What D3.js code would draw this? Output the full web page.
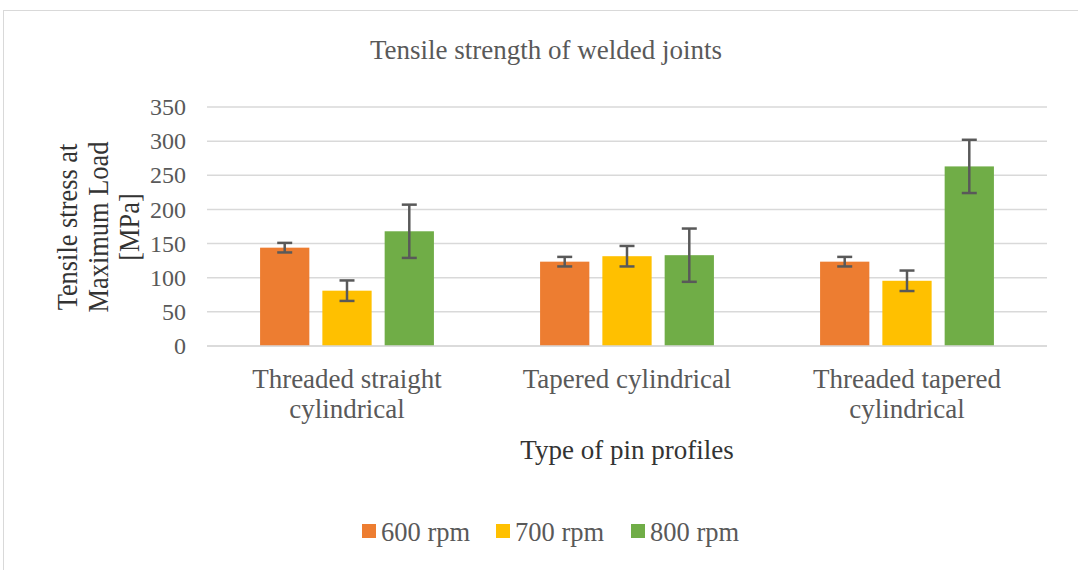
<!DOCTYPE html>
<html>
<head>
<meta charset="utf-8">
<script src="https://cdn.jsdelivr.net/npm/d3@7"></script>
<style>
  html, body { margin: 0; padding: 0; background: #fff; }
  svg { display: block; }
  text { font-family: "Liberation Serif", "Times New Roman", serif; }
</style>
</head>
<body>
<svg id="chart" width="1078" height="570"></svg>
<script>
const categories = [["Threaded straight", "cylindrical"], ["Tapered cylindrical"], ["Threaded tapered", "cylindrical"]];
const seriesNames = ["600 rpm", "700 rpm", "800 rpm"];
const seriesColors = ["#ED7D31", "#FFC000", "#70AD47"];
const values600 = [144, 123.5, 123.5];
const values700 = [81, 131.5, 95.5];
const values800 = [168, 133, 263];
const errors600 = [7, 7, 7];
const errors700 = [15, 15, 15];
const errors800 = [39, 39, 39];
const yTicks = [0, 50, 100, 150, 200, 250, 300, 350];

const seriesValues = [values600, values700, values800];
const seriesErrors = [errors600, errors700, errors800];

const svg = d3.select("#chart");
const W = 1078, H = 570;

// outer chart border
svg.append("rect").attr("x", 3.5).attr("y", 10.5).attr("width", W + 10).attr("height", H + 10)
  .attr("fill", "#fff").attr("stroke", "#d9d9d9").attr("stroke-width", 1);

const plot = { left: 207, right: 1047, top: 107, bottom: 346 };

const x0 = d3.scaleBand().domain(d3.range(categories.length)).range([plot.left, plot.right]).padding(0);
const x1 = d3.scaleBand().domain(d3.range(seriesNames.length)).range([0, x0.bandwidth()])
  .paddingInner(0.209).paddingOuter(0.852);
const y = d3.scaleLinear().domain([0, 350]).range([plot.bottom, plot.top]);

// gridlines
svg.append("g").selectAll("line").data(yTicks).join("line")
  .attr("x1", plot.left).attr("x2", plot.right)
  .attr("y1", d => y(d)).attr("y2", d => y(d))
  .attr("stroke", "#d9d9d9").attr("stroke-width", 1.5);

// y tick labels via axis
const yAxis = svg.append("g").attr("transform", `translate(${plot.left},0)`)
  .call(d3.axisLeft(y).tickValues(yTicks).tickSize(0).tickPadding(21));
yAxis.select(".domain").remove();
yAxis.selectAll("text").attr("font-size", 24).attr("fill", "#595959")
  .attr("font-family", "Liberation Serif, serif");

// bars
const groups = svg.append("g").selectAll("g").data(d3.range(categories.length)).join("g")
  .attr("transform", i => `translate(${x0(i)},0)`);

groups.selectAll("rect").data(i => seriesNames.map((s, k) => ({ k, v: seriesValues[k][i] }))).join("rect")
  .attr("x", d => x1(d.k)).attr("width", x1.bandwidth())
  .attr("y", d => y(d.v)).attr("height", d => y(0) - y(d.v))
  .attr("fill", d => seriesColors[d.k]);

// error bars
const eb = groups.selectAll("g.err").data(i => seriesNames.map((s, k) => ({ k, v: seriesValues[k][i], e: seriesErrors[k][i] })))
  .join("g").attr("class", "err")
  .attr("stroke", "#595959").attr("stroke-width", 2.5).attr("fill", "none");
eb.append("line")
  .attr("x1", d => x1(d.k) + x1.bandwidth() / 2).attr("x2", d => x1(d.k) + x1.bandwidth() / 2)
  .attr("y1", d => y(d.v + d.e)).attr("y2", d => y(d.v - d.e));
eb.append("line")
  .attr("x1", d => x1(d.k) + x1.bandwidth() / 2 - 7.5).attr("x2", d => x1(d.k) + x1.bandwidth() / 2 + 7.5)
  .attr("y1", d => y(d.v + d.e)).attr("y2", d => y(d.v + d.e));
eb.append("line")
  .attr("x1", d => x1(d.k) + x1.bandwidth() / 2 - 7.5).attr("x2", d => x1(d.k) + x1.bandwidth() / 2 + 7.5)
  .attr("y1", d => y(d.v - d.e)).attr("y2", d => y(d.v - d.e));

// x axis baseline
svg.append("line").attr("x1", plot.left).attr("x2", plot.right)
  .attr("y1", y(0)).attr("y2", y(0)).attr("stroke", "#d9d9d9").attr("stroke-width", 1.5);

// category labels
svg.append("g").selectAll("text").data(categories).join("text")
  .attr("x", (d, i) => x0(i) + x0.bandwidth() / 2)
  .attr("y", 388)
  .attr("text-anchor", "middle").attr("font-size", 27).attr("fill", "#595959")
  .selectAll("tspan").data(d => d).join("tspan")
  .attr("x", function () { return d3.select(this.parentNode).attr("x"); })
  .attr("dy", (d, j) => j === 0 ? 0 : 30)
  .text(d => d);

// title
svg.append("text").attr("x", 546).attr("y", 59).attr("text-anchor", "middle")
  .attr("font-size", 27).attr("fill", "#595959").text("Tensile strength of welded joints");

// x axis title
svg.append("text").attr("x", 627).attr("y", 459).attr("text-anchor", "middle")
  .attr("font-size", 27).attr("fill", "#333333").text("Type of pin profiles");

// y axis title (rotated, slightly condensed along the text direction)
const yTitleLines = ["Tensile stress at", "Maximum Load", "[MPa]"];
const yt = svg.append("text").attr("transform", "translate(0,227) rotate(-90) scale(0.88,1)")
  .attr("text-anchor", "middle").attr("font-size", 30).attr("fill", "#333333");
yt.selectAll("tspan").data(yTitleLines).join("tspan")
  .attr("x", 0).attr("y", (d, j) => 77 + j * 31).text(d => d);

// legend
const legendX = [362, 496, 631];
const lg = svg.append("g").selectAll("g").data(seriesNames).join("g")
  .attr("transform", (d, i) => `translate(${legendX[i]},0)`);
lg.append("rect").attr("x", 0).attr("y", 524).attr("width", 14).attr("height", 14)
  .attr("fill", (d, i) => seriesColors[i]);
lg.append("text").attr("x", 19).attr("y", 541).attr("font-size", 26.5).attr("fill", "#595959").text(d => d);
</script>
</body>
</html>
